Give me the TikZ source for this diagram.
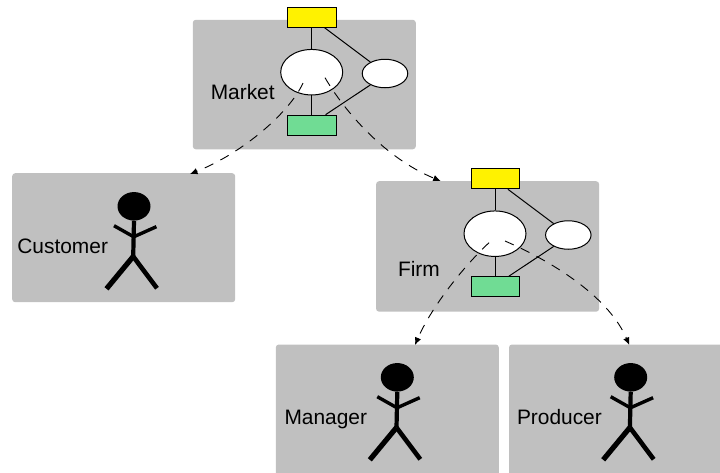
\documentclass[tikz,border=0pt]{standalone}
\usepackage{fontspec}
\setmainfont{Liberation Sans}
\usetikzlibrary{shapes.geometric,arrows.meta}
\definecolor{panelgray}{HTML}{C0C0C0}
\definecolor{tokengreen}{HTML}{70DC94}
\tikzset{
  panel/.style={fill=panelgray,rounded corners=3pt,minimum width=223pt,inner sep=0pt,anchor=north west},
  ybox/.style={draw=black,line width=1pt,fill=yellow,minimum width=48.5pt,minimum height=20pt,inner sep=0pt},
  gbox/.style={draw=black,line width=1pt,fill=tokengreen,minimum width=48.5pt,minimum height=20pt,inner sep=0pt},
  bigoval/.style={ellipse,draw=black,line width=1pt,fill=white,minimum width=62pt,minimum height=45.5pt,inner sep=0pt},
  smalloval/.style={ellipse,draw=black,line width=1pt,fill=white,minimum width=45.5pt,minimum height=28.5pt,inner sep=0pt},
  link/.style={draw=black,line width=1pt},
  dep/.style={draw=black,line width=0.9pt,dash pattern=on 9.5pt off 8pt,-{Latex[length=7.5pt,width=6.5pt]}},
  lbl/.style={anchor=base west,inner sep=0pt,font=\fontsize{20.9pt}{24pt}\selectfont},
  stickman/.pic={
    \node[ellipse,fill=black,minimum width=33pt,minimum height=28.5pt,inner sep=0pt] (head) at (134.3,206.3) {};
    \coordinate (hip) at (133.5,256.5);
    \draw[line width=4.2pt] (head.south) -- (hip);
    \draw[line width=3.4pt] (114.3,225.7) -- (134,236.8) -- (156.7,226.7);
    \draw[line width=5.2pt] (hip) -- (106.8,288.8);
    \draw[line width=4.6pt] (hip) -- (157.3,288.3);
  }
}
\begin{document}
\begin{tikzpicture}[x=1pt,y=-1pt]
\useasboundingbox (0,0) rectangle (720,472);
\clip (0,0) rectangle (720,472);
% panels
\node[panel,minimum height=129.5pt] (market) at (192.6,19.6) {};
\node[panel,minimum height=129pt] (customer) at (12,173) {};
\node[panel,minimum height=130.5pt] (firm) at (375.9,181) {};
\node[panel,minimum height=140pt] (manager) at (275.6,344.3) {};
\node[panel,minimum height=140pt] (producer) at (508.8,344.3) {};
% market net
\node[ybox] (my) at (312.2,17.3) {};
\node[gbox] (mg) at (312.2,125.2) {};
\node[bigoval] (mb) at (311.7,72.2) {};
\node[smalloval] (ms) at (385,73.5) {};
\draw[link] (mb.north |- my.south) -- (mb.north);
\draw[link] (mb.south) -- (mb.south |- mg.north);
\draw[link] ([xshift=-12.3pt]my.south east) -- (ms.142);
\draw[link] ([xshift=-11.4pt]mg.north east) -- (ms.218);
% firm net
\node[ybox] (fy) at (495.5,178.8) {};
\node[gbox] (fg) at (495.5,286.7) {};
\node[bigoval] (fb) at (495,233.7) {};
\node[smalloval] (fs) at (568.3,235) {};
\draw[link] (fb.north |- fy.south) -- (fb.north);
\draw[link] (fb.south) -- (fb.south |- fg.north);
\draw[link] ([xshift=-12.3pt]fy.south east) -- (fs.142);
\draw[link] ([xshift=-11.4pt]fg.north east) -- (fs.218);
% labels
\node[lbl] (tm) at (210.6,99.7) {Market};
\node[lbl] (tc) at (17.2,253) {Customer};
\node[lbl] (tf) at (397.8,276.2) {Firm};
\node[lbl] (tg) at (284.3,424.2) {Manager};
\node[lbl] (tp) at (516.8,424.2) {Producer};
% figures
\pic at (-0.3,0) {stickman};
\pic at (263,171) {stickman};
\pic at (496.4,171) {stickman};
% dashed connectors
\coordinate (a1) at (303,83);
\coordinate (a2) at (190,174);
\coordinate (b1) at (325,77.7);
\coordinate (b2) at (440.7,181);
\coordinate (c1) at (489,242.7);
\coordinate (c2) at (415,345);
\coordinate (d1) at (505,241);
\coordinate (d2) at (629.3,345);
\draw[dep] (a1) .. controls (290,112) and (243,153) .. (a2);
\draw[dep] (b1) .. controls (345,112) and (385,158) .. (b2);
\draw[dep] (c1) .. controls (460,270) and (430,310) .. (c2);
\draw[dep] (d1) .. controls (560,265) and (610,300) .. (d2);
\end{tikzpicture}
\end{document}
